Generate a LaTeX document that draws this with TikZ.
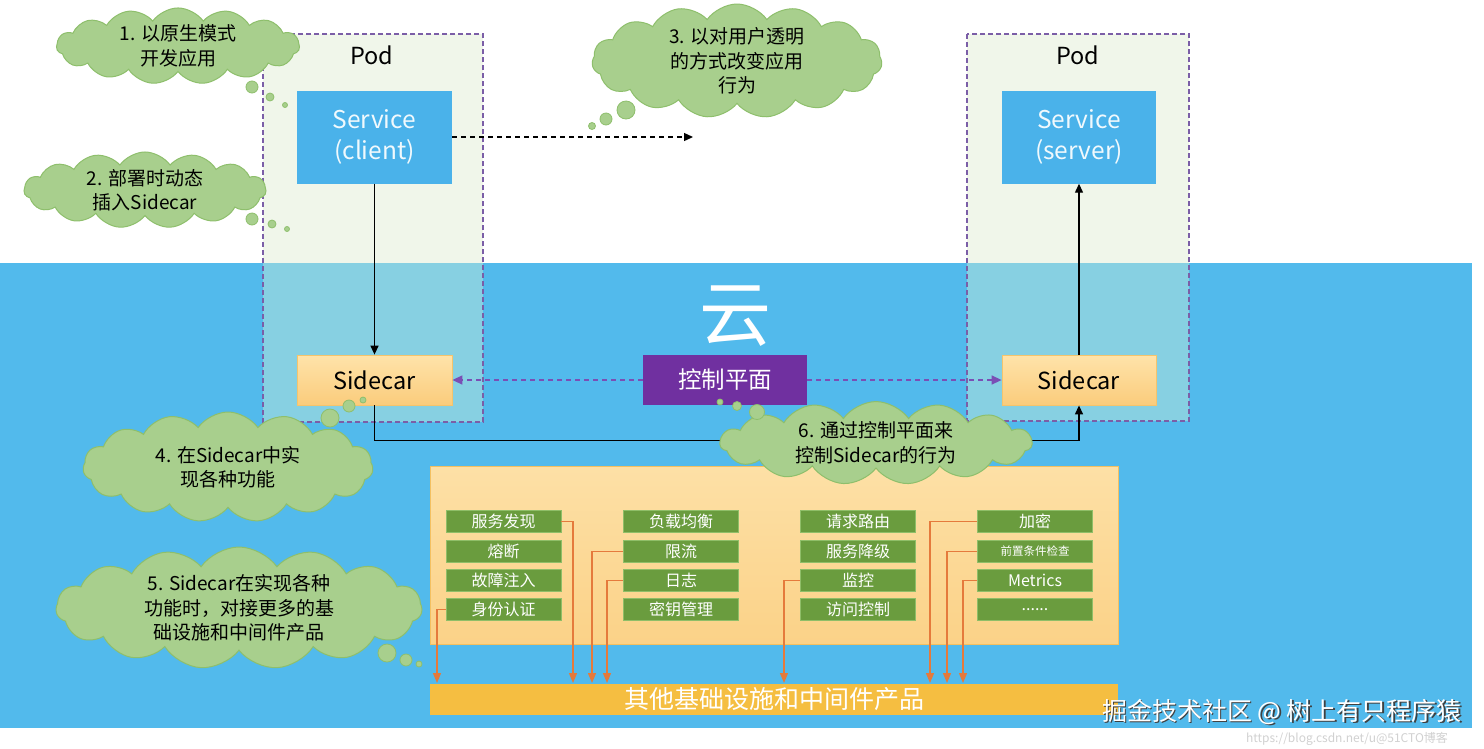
\documentclass[tikz,border=0pt]{standalone}
\usepackage{fontspec}
\setmainfont{Noto Sans CJK SC}
\usetikzlibrary{shapes.symbols,arrows.meta}
\definecolor{bgblue}{HTML}{52BAEC}
\definecolor{podgreen}{HTML}{F0F6EA}
\definecolor{podblue}{HTML}{87D0E2}
\definecolor{podline}{HTML}{7B5EA7}
\definecolor{servblue}{HTML}{4AB2EA}
\definecolor{sidetop}{HTML}{FFE3AA}
\definecolor{sidebot}{HTML}{FACC7C}
\definecolor{sideline}{HTML}{F5C46C}
\definecolor{ctrlpurple}{HTML}{7030A0}
\definecolor{dashpurple}{HTML}{7A4FB5}
\definecolor{featop}{HTML}{FDE0A6}
\definecolor{feabot}{HTML}{FBD288}
\definecolor{fealine}{HTML}{F4C060}
\definecolor{gbox}{HTML}{6A9C3E}
\definecolor{gline}{HTML}{8FBE68}
\definecolor{cloudfill}{HTML}{A8CF8D}
\definecolor{cloudline}{HTML}{8EBF6C}
\definecolor{oline}{HTML}{E57A3C}
\definecolor{barfill}{HTML}{F5BE41}
\begin{document}
\begin{tikzpicture}[x=1pt,y=-1pt,
  podframe/.style={draw=podline,line width=1.2pt,dash pattern=on 5pt off 3pt},
  servbox/.style={fill=servblue,minimum width=155pt,minimum height=93pt,inner sep=0pt,align=center,text=white!92!servblue,font=\fontsize{24.5}{31}\selectfont},
  sidebox/.style={top color=sidetop,bottom color=sidebot,draw=sideline,line width=0.8pt,minimum width=155pt,minimum height=50pt,inner sep=0pt,font=\fontsize{23.5}{26}\selectfont},
  ctrlbox/.style={fill=ctrlpurple,minimum width=164pt,minimum height=50pt,inner sep=0pt,text=white,font=\fontsize{23.5}{26}\selectfont},
  gbtn/.style={fill=gbox,draw=gline,line width=0.8pt,minimum width=115pt,minimum height=22pt,inner sep=0pt,text=white,font=\fontsize{16}{18}\selectfont},
  cloudy/.style={cloud,cloud puffs=15,cloud puff arc=110,cloud ignores aspect,fill=cloudfill,draw=cloudline,line width=1pt,align=center,inner sep=0pt,font=\fontsize{19}{24.5}\selectfont},
  bubble/.style={fill=cloudfill,draw=cloudline,line width=0.8pt},
  blackarrow/.style={draw=black,line width=1.3pt,-{Triangle[length=9pt,width=8pt]}},
  blackdash/.style={draw=black,line width=1.3pt,dash pattern=on 5pt off 4pt,-{Triangle[length=9pt,width=8pt]}},
  purpledash/.style={draw=dashpurple,line width=1.4pt,dash pattern=on 5pt off 4pt,-{Triangle[length=10pt,width=9pt]}},
  oarrow/.style={draw=oline,line width=1.3pt,-{Triangle[length=10pt,width=8pt]}},
  podlabel/.style={font=\fontsize{23.5}{26}\selectfont,text=black}
]
\useasboundingbox (0,0) rectangle (1484,748);
\fill[white] (0,0) rectangle (1484,748);
% pods (upper part) and blue cloud area
\fill[podgreen] (263,34) rectangle (483,422);
\fill[podgreen] (967,34) rectangle (1189,421);
\fill[bgblue] (0,263) rectangle (1472,728);
\fill[podblue] (263,263) rectangle (483,422);
\fill[podblue] (967,263) rectangle (1189,421);
\draw[podframe] (263,34) rectangle (483,422);
\draw[podframe] (967,34) rectangle (1189,421);

\node[podlabel] (podL) at (372,55) {Pod};
\node[podlabel] (podR) at (1078,55) {Pod};

\node[servbox] (client) at (374.5,137) {Service\\(client)};
\node[servbox,minimum width=154pt] (server) at (1079,137) {Service\\(server)};

\node[sidebox] (sideL) at (374.5,380) {Sidecar};
\node[sidebox,minimum width=154pt] (sideR) at (1079,380) {Sidecar};
\node[ctrlbox] (ctrl) at (725,380) {控制平面};
\node[text=white,font=\fontsize{72}{74}\selectfont] (yun) at (735,316) {云};

\coordinate (dashend) at (693,137);
\draw[blackdash] (client.east) -- (dashend);
\draw[blackarrow] (client.south) -- (sideL.north);
\draw[blackarrow] (sideR.north) -- (server.south);
\draw[purpledash] (ctrl.west) -- (sideL.east);
\draw[purpledash] (ctrl.east) -- (sideR.west);
\draw[blackarrow] (sideL.south) -- ++(0,35) -| (sideR.south);

% feature box
\node[top color=featop,bottom color=feabot,draw=fealine,line width=0.8pt,minimum width=688pt,minimum height=178pt,inner sep=0pt] (feat) at (774,555) {};
\node[fill=barfill,minimum width=688pt,minimum height=31pt,inner sep=0pt,text=white,font=\fontsize{25}{27}\selectfont] (bar) at (774,699) {其他基础设施和中间件产品};

\node[gbtn] (g11) at (503.5,521.5) {服务发现};
\node[gbtn] (g12) at (503.5,551.5) {熔断};
\node[gbtn] (g13) at (503.5,580.5) {故障注入};
\node[gbtn] (g14) at (503.5,609.5) {身份认证};
\node[gbtn] (g21) at (681,521.5) {负载均衡};
\node[gbtn] (g22) at (681,551.5) {限流};
\node[gbtn] (g23) at (681,580.5) {日志};
\node[gbtn] (g24) at (681,609.5) {密钥管理};
\node[gbtn] (g31) at (858,521.5) {请求路由};
\node[gbtn] (g32) at (858,551.5) {服务降级};
\node[gbtn] (g33) at (858,580.5) {监控};
\node[gbtn] (g34) at (858,609.5) {访问控制};
\node[gbtn] (g41) at (1035,521.5) {加密};
\node[gbtn,font=\fontsize{11.5}{13}\selectfont] (g42) at (1035,551.5) {前置条件检查};
\node[gbtn] (g43) at (1035,580.5) {Metrics};
\node[gbtn] (g44) at (1035,609.5) {......};

\coordinate (t1) at (437,683);
\coordinate (t2) at (573,683);
\coordinate (t3) at (592,683);
\coordinate (t4) at (607,683);
\coordinate (t5) at (784,683);
\coordinate (t6) at (930,683);
\coordinate (t7) at (947,683);
\coordinate (t8) at (963,683);
\draw[oarrow] (g14.west) -| (t1);
\draw[oarrow] (g11.east) -| (t2);
\draw[oarrow] (g22.west) -| (t3);
\draw[oarrow] (g23.west) -| (t4);
\draw[oarrow] (g33.west) -| (t5);
\draw[oarrow] (g41.west) -| (t6);
\draw[oarrow] (g42.west) -| (t7);
\draw[oarrow] (g43.west) -| (t8);

% clouds
\node[cloudy,minimum width=243pt,minimum height=70pt] (c1) at (178,46) {1. 以原生模式\\开发应用};
\fill[bubble] (252,87) circle (6);
\fill[bubble] (270,97) circle (4);
\fill[bubble] (285,105) circle (2.5);

\node[cloudy,minimum width=242pt,minimum height=74pt] (c2) at (145,190) {2. 部署时动态\\插入Sidecar};
\fill[bubble] (252,219) circle (6);
\fill[bubble] (272,224) circle (4);
\fill[bubble] (287,229) circle (2.5);

\node[cloudy,minimum width=290pt,minimum height=114pt] (c3) at (737,61) {3. 以对用户透明\\的方式改变应用\\行为};
\fill[bubble] (626,110) circle (9);
\fill[bubble] (606,119) circle (6);
\fill[bubble] (592,126) circle (3.5);

\node[cloudy,minimum width=290pt,minimum height=110pt] (c4) at (228,467) {4. 在Sidecar中实\\现各种功能};
\fill[bubble] (330,418) circle (9);
\fill[bubble] (349,406) circle (6);
\fill[bubble] (363,400) circle (3);

\node[cloudy,minimum width=366pt,minimum height=122pt] (c5) at (239,608) {5. Sidecar在实现各种\\功能时，对接更多的基\\础设施和中间件产品};
\fill[bubble] (387,653) circle (9);
\fill[bubble] (406,660) circle (6);
\fill[bubble] (419,664) circle (3);

\node[cloudy,minimum width=312pt,minimum height=78pt] (c6) at (876,443) {6. 通过控制平面来\\控制Sidecar的行为};
\fill[bubble] (757,412) circle (7.5);
\fill[bubble] (737,406) circle (4.5);
\fill[bubble] (720,402) circle (3);

% watermarks
\node[text=black!75,font=\fontsize{25}{28}\selectfont] (wmshadow) at (1283.5,713.5) {掘金技术社区 @ 树上有只程序猿};
\node[text=white,font=\fontsize{25}{28}\selectfont] (wm) at (1282,712) {掘金技术社区 @ 树上有只程序猿};
\node[text=black!18,font=\fontsize{12}{14}\selectfont] (csdn) at (1347,739) {https://blog.csdn.net/u@51CTO博客};
\end{tikzpicture}
\end{document}
